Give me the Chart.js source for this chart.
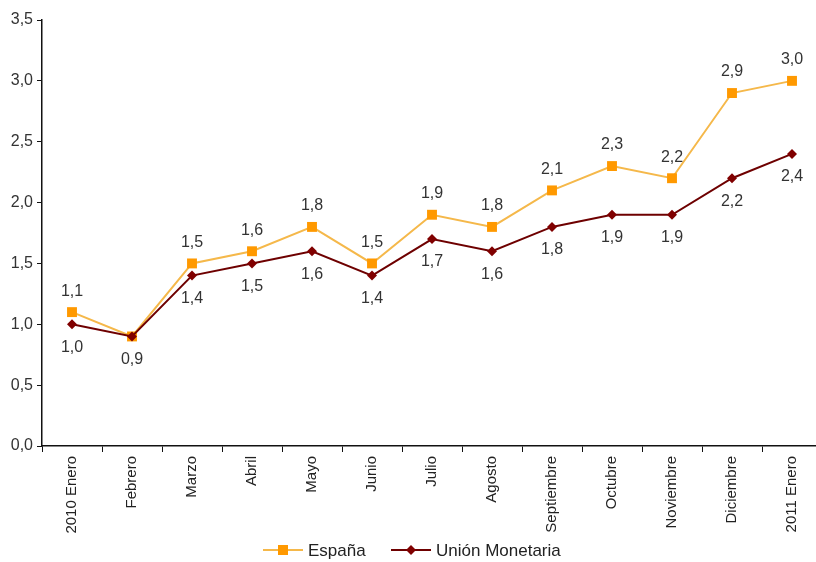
<!DOCTYPE html>
<html>
<head>
<meta charset="utf-8">
<script src="https://cdn.jsdelivr.net/npm/chart.js@4"></script>
<style>
  html, body { margin: 0; padding: 0; background: #fff; overflow: hidden; }
</style>
</head>
<body>
<canvas id="chrt" width="830" height="562"></canvas>
<script>
var months = ['2010 Enero', 'Febrero', 'Marzo', 'Abril', 'Mayo', 'Junio', 'Julio',
	'Agosto', 'Septiembre', 'Octubre', 'Noviembre', 'Diciembre', '2011 Enero'];
var espana = [1.1, 0.9, 1.5, 1.6, 1.8, 1.5, 1.9, 1.8, 2.1, 2.3, 2.2, 2.9, 3.0];
var unionMonetaria = [1.0, 0.9, 1.4, 1.5, 1.6, 1.4, 1.7, 1.6, 1.8, 1.9, 1.9, 2.2, 2.4];
var seriesNames = ['España', 'Unión Monetaria'];

function fmt(v) {
	return v.toFixed(1).replace('.', ',');
}

// value labels: España above, Unión Monetaria below
var valueLabels = {
	id: 'valueLabels',
	afterDatasetsDraw: function (chart) {
		var ctx = chart.ctx;
		ctx.save();
		ctx.font = '16px "Liberation Sans", Arial, sans-serif';
		ctx.fillStyle = '#333';
		ctx.textAlign = 'center';
		ctx.textBaseline = 'middle';
		chart.data.datasets.forEach(function (ds, i) {
			var meta = chart.getDatasetMeta(i);
			meta.data.forEach(function (pt, j) {
				if (i == 0 && ds.data[j] == chart.data.datasets[1].data[j]) return;
				var dy = i == 0 ? -21 : 23;
				ctx.fillText(fmt(ds.data[j]), pt.x, pt.y + dy);
			});
		});
		ctx.restore();
	}
};

// legend drawn by hand so the line runs through the marker
var bottomLegend = {
	id: 'bottomLegend',
	afterDraw: function (chart) {
		var ctx = chart.ctx;
		var y = 550;
		var items = [
			{ x: 263, text: seriesNames[0], line: '#F5B84A', mark: '#FF9900', style: 'rect' },
			{ x: 391, text: seriesNames[1], line: '#6E0000', mark: '#800000', style: 'diamond' }
		];
		ctx.save();
		ctx.font = '17px "Liberation Sans", Arial, sans-serif';
		ctx.textBaseline = 'middle';
		items.forEach(function (it) {
			ctx.strokeStyle = it.line;
			ctx.lineWidth = 2;
			ctx.beginPath();
			ctx.moveTo(it.x, y);
			ctx.lineTo(it.x + 40, y);
			ctx.stroke();
			ctx.fillStyle = it.mark;
			var cx = it.x + 20;
			if (it.style == 'rect') {
				ctx.fillRect(cx - 5, y - 5, 10, 10);
			} else {
				ctx.beginPath();
				ctx.moveTo(cx, y - 5);
				ctx.lineTo(cx + 5, y);
				ctx.lineTo(cx, y + 5);
				ctx.lineTo(cx - 5, y);
				ctx.closePath();
				ctx.fill();
			}
			ctx.fillStyle = '#222';
			ctx.fillText(it.text, it.x + 45, y + 1);
		});
		ctx.restore();
	}
};

var ctx = document.getElementById('chrt').getContext('2d');

new Chart(ctx, {
	type: 'line',
	data: {
		labels: months,
		datasets: [
			{
				label: seriesNames[0],
				data: espana,
				order: 1,
				borderColor: '#F5B84A',
				borderWidth: 2,
				pointStyle: 'rect',
				pointRadius: 7,
				pointBackgroundColor: '#FF9900',
				pointBorderColor: '#FF9900',
				pointBorderWidth: 0,
				tension: 0
			},
			{
				label: seriesNames[1],
				data: unionMonetaria,
				order: 0,
				borderColor: '#6E0000',
				borderWidth: 2,
				pointStyle: 'rectRot',
				pointRadius: 5,
				pointBackgroundColor: '#800000',
				pointBorderColor: '#800000',
				pointBorderWidth: 0,
				tension: 0
			}
		]
	},
	options: {
		responsive: false,
		animation: false,
		layout: { padding: { top: 20, right: 8, left: 0, bottom: 0 } },
		plugins: {
			legend: { display: false },
			tooltip: { enabled: false }
		},
		scales: {
			x: {
				offset: true,
				afterFit: function (s) { s.height = 116; },
				border: { color: '#111', width: 1.5 },
				grid: { offset: true, drawOnChartArea: false, tickLength: 6, color: '#111' },
				ticks: {
					minRotation: 90,
					maxRotation: 90,
					autoSkip: false,
					padding: 4,
					color: '#222',
					font: { family: '"Liberation Sans", Arial, sans-serif', size: 15 }
				}
			},
			y: {
				min: 0,
				max: 3.5,
				afterFit: function (s) { s.width = 42; },
				border: { color: '#111', width: 1.5 },
				grid: { drawOnChartArea: false, tickLength: 5, color: '#111' },
				ticks: {
					stepSize: 0.5,
					padding: 4,
					color: '#333',
					font: { family: '"Liberation Sans", Arial, sans-serif', size: 16 },
					callback: function (v) { return fmt(v); }
				}
			}
		}
	},
	plugins: [valueLabels, bottomLegend]
});
</script>
</body>
</html>
